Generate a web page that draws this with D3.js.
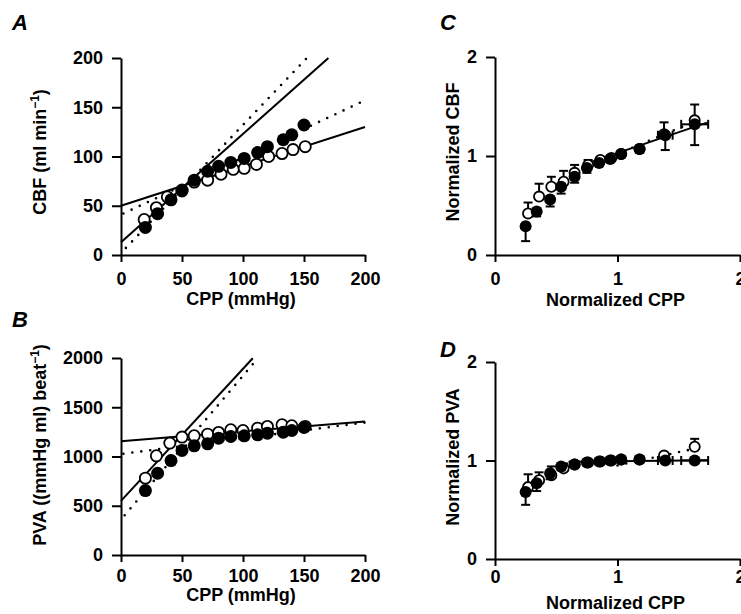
<!DOCTYPE html>
<html>
<head>
<meta charset="utf-8">
<script src="https://cdn.jsdelivr.net/npm/d3@7"></script>
<style>
  body { margin: 0; background: #fff; }
  svg text { font-family: "Liberation Sans", Arial, sans-serif; font-weight: bold; fill: #000; }
</style>
</head>
<body>
<div id="fig"></div>
<script>
// ---- panel A / B : absolute values vs CPP (mmHg)
const cppFilled = [20, 30, 41, 50, 60, 71, 80, 90, 101, 112, 120, 133, 140, 150];
const cppOpen   = [19, 29, 38, 50, 60, 71, 82, 92, 101, 111, 121, 132, 141, 151];
const cbfFilled = [28, 42, 56, 66, 76, 85, 90, 94, 98, 104, 110, 117, 122, 132];
const cbfOpen   = [36, 48, 59, 65, 74, 76, 82, 87, 88, 92, 100, 103, 107, 110];
const cppOpenB  = [20, 29, 40, 50, 60, 71, 80, 90, 100, 112, 120, 132, 140, 151];
const pvaFilled = [654, 830, 959, 1061, 1108, 1129, 1186, 1203, 1210, 1220, 1237, 1247, 1264, 1295];
const pvaOpen   = [780, 1007, 1136, 1197, 1210, 1227, 1244, 1271, 1264, 1288, 1305, 1322, 1312, 1305];

// regression lines: intercept a, slope b, drawn from x0 to x1
const cbfLinesSolid  = [{a: 13, b: 1.1, x0: 0, x1: 170}, {a: 50, b: 0.4, x0: 0, x1: 200}];
const cbfLinesDotted = [{a: 2, b: 1.3, x0: 4, x1: 152}, {a: 41, b: 0.58, x0: 2, x1: 200}];
const pvaLinesSolid  = [{a: 550, b: 13.4, x0: 0, x1: 108}, {a: 1155, b: 1.0, x0: 0, x1: 200}];
const pvaLinesDotted = [{a: 360, b: 14.6, x0: 3, x1: 108}, {a: 1025, b: 1.6, x0: 2, x1: 200}];

// ---- panel C / D : normalized values
const nCppFilled = [0.25, 0.34, 0.45, 0.54, 0.65, 0.75, 0.85, 0.94, 1.03, 1.18, 1.39, 1.63];
const nCppOpen   = [0.27, 0.36, 0.46, 0.56, 0.65, 0.76, 0.86, 0.95, 1.03, 1.18, 1.38, 1.63];
const nCppErr    = [0, 0, 0, 0, 0, 0, 0, 0, 0.02, 0.03, 0.06, 0.11];
const nCbfFilled = [0.29, 0.44, 0.56, 0.69, 0.79, 0.88, 0.93, 0.97, 1.02, 1.07, 1.21, 1.32];
const nCbfFilledErr = [0.15, 0.05, 0.07, 0.07, 0.06, 0.05, 0.03, 0.03, 0.02, 0.03, 0.15, 0.21];
const nCbfOpen   = [0.42, 0.59, 0.69, 0.74, 0.83, 0.91, 0.96, 0.98, 1.02, 1.07, 1.22, 1.36];
const nCbfOpenErr = [0.11, 0.13, 0.1, 0.11, 0.08, 0.05, 0.03, 0.03, 0.02, 0.03, 0.12, 0.16];
const nPvaFilled = [0.68, 0.77, 0.87, 0.94, 0.96, 0.98, 0.99, 1.0, 1.01, 1.01, 1.0, 1.0];
const nPvaFilledErr = [0.13, 0.08, 0.06, 0.04, 0.02, 0.02, 0.01, 0.01, 0.01, 0.01, 0.01, 0.01];
const nPvaOpen   = [0.73, 0.8, 0.85, 0.92, 0.96, 0.98, 0.99, 1.0, 1.01, 1.01, 1.05, 1.14];
const nPvaOpenErr = [0.13, 0.08, 0.09, 0.05, 0.03, 0.02, 0.01, 0.01, 0.01, 0.01, 0.02, 0.08];
const nCbfLinesSolid  = [{a: 0.61, b: 0.42, x0: 0.78, x1: 1.73}];
const nCbfLinesDotted = [{a: 0.5, b: 0.52, x0: 0.85, x1: 1.72}];
const nPvaLinesSolid  = [{a: 0.98, b: 0.013, x0: 0.6, x1: 1.74}];
const nPvaLinesDotted = [{a: 0.68, b: 0.27, x0: 1.0, x1: 1.62}];

const svg = d3.select("#fig").append("svg")
    .attr("width", 741)
    .attr("height", 614);

function drawPanel(cfg) {
    const g = svg.append("g");
    const x = d3.scaleLinear().domain(cfg.xDomain).range([cfg.left, cfg.right]);
    const y = d3.scaleLinear().domain(cfg.yDomain).range([cfg.bottom, cfg.top]);

    const xAxis = g.append("g")
        .attr("transform", `translate(0,${cfg.bottom})`)
        .call(d3.axisBottom(x).tickValues(cfg.xTicks).tickFormat(d3.format("d"))
            .tickSize(7).tickSizeOuter(0).tickPadding(cfg.xPad));
    const yAxis = g.append("g")
        .attr("transform", `translate(${cfg.left},0)`)
        .call(d3.axisLeft(y).tickValues(cfg.yTicks).tickFormat(d3.format("d"))
            .tickSize(9).tickSizeOuter(0).tickPadding(9));
    [xAxis, yAxis].forEach(a => {
        a.selectAll("path, line").attr("stroke", "#000").attr("stroke-width", 2);
        a.selectAll("text").attr("font-size", 18);
    });

    // fitted lines
    const lineFn = l => `M${x(l.x0)},${y(l.a + l.b * l.x0)}L${x(l.x1)},${y(l.a + l.b * l.x1)}`;
    g.append("g").selectAll("path")
        .data(cfg.solid)
        .join("path")
        .attr("d", lineFn)
        .attr("stroke", "#000")
        .attr("stroke-width", 2)
        .attr("fill", "none");
    g.append("g").selectAll("path")
        .data(cfg.dotted)
        .join("path")
        .attr("d", lineFn)
        .attr("stroke", "#000")
        .attr("stroke-width", 2.6)
        .attr("stroke-linecap", "round")
        .attr("stroke-dasharray", "0,9")
        .attr("fill", "none");

    const r = cfg.r;
    const cap = 4.5;
    const drawSeries = (pts, filled) => {
        const eg = g.append("g").attr("stroke", "#000").attr("stroke-width", 2);
        pts.forEach(p => {
            if (p.ey) {
                const yEnd = filled ? y(p.y - p.ey) : y(p.y + p.ey);
                eg.append("line").attr("x1", x(p.x)).attr("x2", x(p.x)).attr("y1", y(p.y)).attr("y2", yEnd);
                eg.append("line").attr("x1", x(p.x) - cap).attr("x2", x(p.x) + cap).attr("y1", yEnd).attr("y2", yEnd);
            }
            if (p.ex && filled) {
                const xl = x(p.x - p.ex), xr = x(p.x + p.ex);
                eg.append("line").attr("x1", xl).attr("x2", xr).attr("y1", y(p.y)).attr("y2", y(p.y));
                eg.append("line").attr("x1", xl).attr("x2", xl).attr("y1", y(p.y) - cap).attr("y2", y(p.y) + cap);
                eg.append("line").attr("x1", xr).attr("x2", xr).attr("y1", y(p.y) - cap).attr("y2", y(p.y) + cap);
            }
        });
        g.append("g").selectAll("circle")
            .data(pts)
            .join("circle")
            .attr("cx", d => x(d.x))
            .attr("cy", d => y(d.y))
            .attr("r", filled ? r : r - 0.9)
            .attr("fill", filled ? "#000" : "#fff")
            .attr("stroke", "#000")
            .attr("stroke-width", filled ? 0 : 1.8);
    };
    drawSeries(cfg.open, false);
    drawSeries(cfg.filled, true);

    // labels
    g.append("text")
        .attr("x", cfg.letter[0]).attr("y", cfg.letter[1])
        .attr("font-size", 22).attr("font-style", "italic")
        .text(cfg.name);
    g.append("text")
        .attr("x", (cfg.left + cfg.right) / 2 - 2).attr("y", cfg.xLabelY)
        .attr("text-anchor", "middle").attr("font-size", 18)
        .text(cfg.xLabel);
    const yl = g.append("text")
        .attr("transform", `translate(${cfg.yLabelPos[0]},${cfg.yLabelPos[1]}) rotate(-90)`)
        .attr("text-anchor", "middle").attr("font-size", 18);
    yl.append("tspan").text(cfg.yLabel[0]);
    if (cfg.yLabel[1]) {
        yl.append("tspan").attr("font-size", 12).attr("dy", -7).text(cfg.yLabel[1]);
        yl.append("tspan").attr("dy", 7).text(cfg.yLabel[2]);
    }
}

const zipPts = (xs, ys, eys, exs) => xs.map((v, i) => ({x: v, y: ys[i], ey: eys ? eys[i] : 0, ex: exs ? exs[i] : 0}));

drawPanel({
    name: "A", letter: [12, 30],
    left: 121, right: 365, top: 58, bottom: 255,
    xDomain: [0, 200], yDomain: [0, 200],
    xTicks: [0, 50, 100, 150, 200], yTicks: [0, 50, 100, 150, 200], xPad: 10,
    xLabel: "CPP (mmHg)", xLabelY: 305,
    yLabel: ["CBF (ml min", "\u22121", ")"], yLabelPos: [46, 152],
    solid: cbfLinesSolid, dotted: cbfLinesDotted, r: 6.5,
    filled: zipPts(cppFilled, cbfFilled), open: zipPts(cppOpen, cbfOpen)
});
drawPanel({
    name: "B", letter: [12, 327],
    left: 121, right: 365, top: 358, bottom: 555,
    xDomain: [0, 200], yDomain: [0, 2000],
    xTicks: [0, 50, 100, 150, 200], yTicks: [0, 500, 1000, 1500, 2000], xPad: 7,
    xLabel: "CPP (mmHg)", xLabelY: 601,
    yLabel: ["PVA ((mmHg ml) beat", "\u22121", ")"], yLabelPos: [46, 445],
    solid: pvaLinesSolid, dotted: pvaLinesDotted, r: 6.5,
    filled: zipPts(cppFilled, pvaFilled), open: zipPts(cppOpenB, pvaOpen)
});
drawPanel({
    name: "C", letter: [440, 30],
    left: 495, right: 740, top: 57, bottom: 255,
    xDomain: [0, 2], yDomain: [0, 2],
    xTicks: [0, 1, 2], yTicks: [0, 1, 2], xPad: 10,
    xLabel: "Normalized CPP", xLabelY: 306,
    yLabel: ["Normalized CBF"], yLabelPos: [459, 152],
    solid: nCbfLinesSolid, dotted: nCbfLinesDotted, r: 6,
    filled: zipPts(nCppFilled, nCbfFilled, nCbfFilledErr, nCppErr),
    open: zipPts(nCppOpen, nCbfOpen, nCbfOpenErr)
});
drawPanel({
    name: "D", letter: [440, 357],
    left: 495, right: 740, top: 362, bottom: 559,
    xDomain: [0, 2], yDomain: [0, 2],
    xTicks: [0, 1, 2], yTicks: [0, 1, 2], xPad: 4,
    xLabel: "Normalized CPP", xLabelY: 609,
    yLabel: ["Normalized PVA"], yLabelPos: [459, 457],
    solid: nPvaLinesSolid, dotted: nPvaLinesDotted, r: 6,
    filled: zipPts(nCppFilled, nPvaFilled, nPvaFilledErr, nCppErr),
    open: zipPts(nCppOpen, nPvaOpen, nPvaOpenErr)
});
</script>
</body>
</html>
